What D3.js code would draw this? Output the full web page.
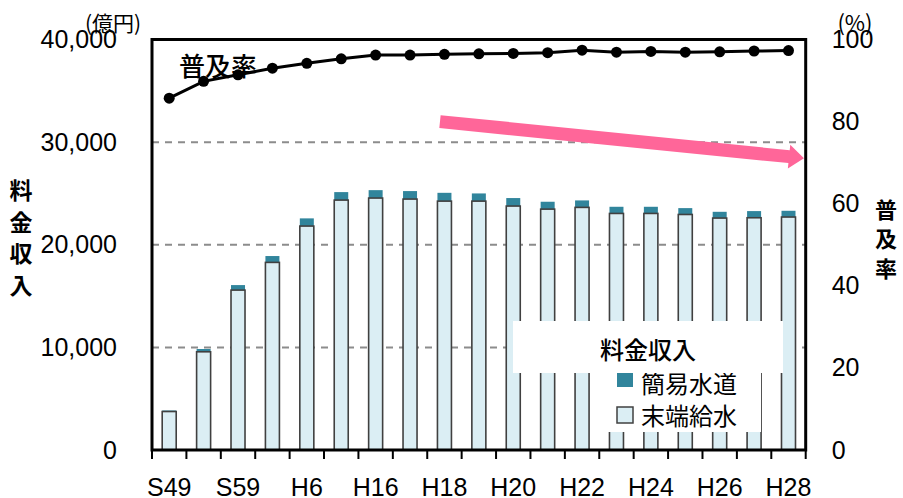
<!DOCTYPE html>
<html><head><meta charset="utf-8">
<script src="https://cdn.jsdelivr.net/npm/d3@7/dist/d3.min.js"></script>
<style>
html,body{margin:0;padding:0;background:#fff;}
svg{display:block;}
</style></head>
<body>
<svg id="c" width="903" height="498"></svg>
<script>
// ---- data ----
const categories = ["S49","S54","S59","H1","H6","H11","H16","H17","H18","H19","H20","H21","H22","H23","H24","H25","H26","H27","H28"];
const tickLabels = ["S49","S59","H6","H16","H18","H20","H22","H24","H26","H28"];
const suetanKyusui = [3750,9570,15580,18280,21820,24350,24550,24450,24250,24250,23770,23470,23640,23050,23050,22950,22600,22630,22700];
const kanniSuido   = [100,270,490,620,750,780,770,780,810,750,780,720,680,650,650,620,610,650,610];
const fukyuRitsu   = [85.7,89.8,91.4,93.0,94.2,95.3,96.2,96.2,96.4,96.5,96.6,96.8,97.4,96.9,97.1,96.9,97.0,97.2,97.3];
const leftTicks = [0,10000,20000,30000,40000];
const rightTicks = [0,20,40,60,80,100];
const gridTicks = [10000,20000,30000];
// trend arrow in data units (category index, left-axis value)
const arrowFrom = [8.37, 32000];
const arrowTo = [18.95, 28440];

// ---- layout ----
const L = 152, R = 805.7, T = 39.5, B = 450;
const NUM = "'Liberation Sans', Arial, sans-serif";
const JP = "'Noto Sans CJK JP', 'Noto Sans', sans-serif";
const C_MAIN = "#DBEEF4", C_TOP = "#31859C", C_ARROW = "#FF6699";

const svg = d3.select("#c");

const x = d3.scaleBand().domain(categories).range([L, R]).paddingInner(0.593).paddingOuter(0.2965);
const xi = d3.scaleLinear().domain([0, categories.length]).range([L, R]);
const y = d3.scaleLinear().domain([0, 40000]).range([B, T]);
const yr = d3.scaleLinear().domain([0, 100]).range([B, T]);

// grid
svg.append("g").selectAll("line").data(gridTicks).join("line")
  .attr("x1", L).attr("x2", R).attr("y1", d => y(d)).attr("y2", d => y(d))
  .attr("stroke", "#8c8c8c").attr("stroke-width", 2).attr("stroke-dasharray", "7,6");

// bars
const rows = categories.map((c, i) => ({c, a: suetanKyusui[i], b: kanniSuido[i]}));
const gb = svg.append("g");
gb.selectAll("rect.top").data(rows).join("rect").attr("class","top")
  .attr("x", d => x(d.c)).attr("width", x.bandwidth())
  .attr("y", d => y(d.a + d.b)).attr("height", d => y(d.a) - y(d.a + d.b))
  .attr("fill", C_TOP);
gb.selectAll("rect.main").data(rows).join("rect").attr("class","main")
  .attr("x", d => x(d.c)).attr("width", x.bandwidth())
  .attr("y", d => y(d.a)).attr("height", d => y(0) - y(d.a))
  .attr("fill", C_MAIN).attr("stroke", "#404040").attr("stroke-width", 1.6);

// line
const pts = categories.map((c, i) => [x(c) + x.bandwidth()/2, yr(fukyuRitsu[i])]);
svg.append("path").attr("d", d3.line()(pts)).attr("fill","none")
  .attr("stroke","#000").attr("stroke-width",3);
svg.append("g").selectAll("circle").data(pts).join("circle")
  .attr("cx", d => d[0]).attr("cy", d => d[1]).attr("r", 5.5).attr("fill","#000");

// arrow
(function(){
  const sx = xi(arrowFrom[0]), sy = y(arrowFrom[1]);
  const tx = xi(arrowTo[0]), ty = y(arrowTo[1]);
  const len = Math.hypot(tx - sx, ty - sy);
  const ux = (tx - sx)/len, uy = (ty - sy)/len;
  const nx = -uy, ny = ux;
  const sw = 6.5, hw = 12, hl = 15;
  const bx = tx - ux*hl, by = ty - uy*hl;
  const poly = [
    [sx + nx*sw, sy + ny*sw], [bx + nx*sw, by + ny*sw], [bx + nx*hw, by + ny*hw],
    [tx, ty], [bx - nx*hw, by - ny*hw], [bx - nx*sw, by - ny*sw], [sx - nx*sw, sy - ny*sw]
  ];
  svg.append("polygon").attr("points", poly.map(p => p.join(",")).join(" ")).attr("fill", C_ARROW);
})();

// legend
const lg = svg.append("g");
lg.append("rect").attr("x", 608).attr("y", 365).attr("width", 153).attr("height", 67).attr("fill", "#fff");
lg.append("rect").attr("x", 617).attr("y", 371).attr("width", 16).attr("height", 16).attr("fill", C_TOP);
lg.append("rect").attr("x", 617).attr("y", 407).attr("width", 16).attr("height", 16)
  .attr("fill", C_MAIN).attr("stroke", "#404040").attr("stroke-width", 1.5);
lg.append("text").attr("x", 641).attr("y", 382).attr("dominant-baseline","central")
  .attr("font-family", JP).attr("font-size", 24).text("簡易水道");
lg.append("text").attr("x", 641).attr("y", 414).attr("dominant-baseline","central")
  .attr("font-family", JP).attr("font-size", 24).text("末端給水");
lg.append("rect").attr("x", 513).attr("y", 321).attr("width", 270).attr("height", 52).attr("fill", "#fff");
lg.append("text").attr("x", 648).attr("y", 348).attr("text-anchor","middle").attr("dominant-baseline","central")
  .attr("font-family", JP).attr("font-size", 24).attr("font-weight", 500).text("料金収入");

// axes
const ax = d3.axisLeft(y).tickValues(leftTicks).tickFormat(d3.format(",")).tickSize(0).tickPadding(35);
const gL = svg.append("g").attr("transform", `translate(${L},0)`).call(ax);
const ar = d3.axisRight(yr).tickValues(rightTicks).tickSize(0).tickPadding(26);
const gR = svg.append("g").attr("transform", `translate(${R},0)`).call(ar);
const axb = d3.axisBottom(x).tickSize(0).tickPadding(28).tickFormat(d => tickLabels.includes(d) ? d : "");
const gB = svg.append("g").attr("transform", `translate(0,${B})`).call(axb);
[gL, gR, gB].forEach(g => {
  g.select(".domain").remove();
  g.selectAll("text").attr("font-family", NUM).attr("font-size", 25).attr("fill", "#000");
});

// x ticks at band boundaries
svg.append("g").selectAll("line").data(d3.range(categories.length + 1)).join("line")
  .attr("x1", d => xi(d)).attr("x2", d => xi(d)).attr("y1", B).attr("y2", B + 9)
  .attr("stroke", "#000").attr("stroke-width", 2);

// frame
svg.append("path").attr("d", `M${L},${B}V${T}H${R}V${B}Z`).attr("fill","none")
  .attr("stroke","#000").attr("stroke-width",3);

// titles
svg.append("text").attr("x", 113).attr("y", 22).attr("text-anchor","middle").attr("dominant-baseline","central")
  .attr("font-family", JP).attr("font-size", 21).text("(億円)");
svg.append("text").attr("x", 855).attr("y", 21).attr("text-anchor","middle").attr("dominant-baseline","central")
  .attr("font-family", JP).attr("font-size", 22).text("(%)");
svg.append("text").attr("x", 218).attr("y", 64).attr("text-anchor","middle").attr("dominant-baseline","central")
  .attr("font-family", JP).attr("font-size", 26).attr("font-weight", 500).text("普及率");
["料","金","収","入"].forEach((ch, i) => {
  svg.append("text").attr("x", 21).attr("y", 189 + i*31.7).attr("text-anchor","middle").attr("dominant-baseline","central")
    .attr("font-family", JP).attr("font-size", 23).attr("font-weight", 700).text(ch);
});
["普","及","率"].forEach((ch, i) => {
  svg.append("text").attr("x", 886).attr("y", 208 + i*29.3).attr("text-anchor","middle").attr("dominant-baseline","central")
    .attr("font-family", JP).attr("font-size", 22).attr("font-weight", 700).text(ch);
});
</script>
</body></html>
